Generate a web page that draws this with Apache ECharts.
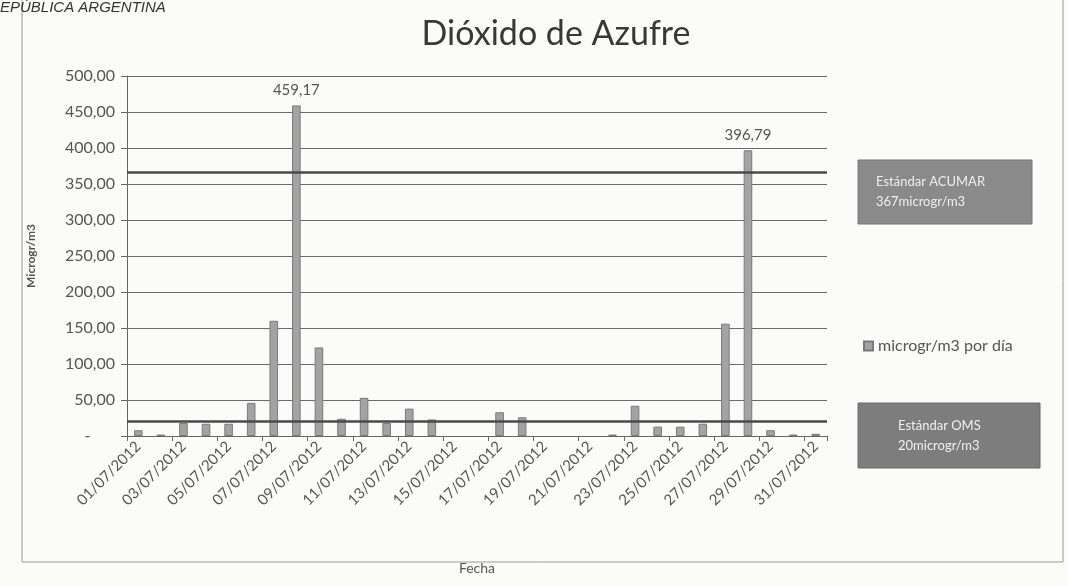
<!DOCTYPE html>
<html>
<head>
<meta charset="utf-8">
<script src="https://cdn.jsdelivr.net/npm/echarts@6/dist/echarts.min.js"></script>
<style>
html,body{margin:0;padding:0;background:#fbfbfa;}
#c{width:1067px;height:586px;}
</style>
</head>
<body>
<div id="c"></div>
<script>
const categories = ["01/07/2012","02/07/2012","03/07/2012","04/07/2012","05/07/2012","06/07/2012","07/07/2012","08/07/2012","09/07/2012","10/07/2012","11/07/2012","12/07/2012","13/07/2012","14/07/2012","15/07/2012","16/07/2012","17/07/2012","18/07/2012","19/07/2012","20/07/2012","21/07/2012","22/07/2012","23/07/2012","24/07/2012","25/07/2012","26/07/2012","27/07/2012","28/07/2012","29/07/2012","30/07/2012","31/07/2012"];
const dailyValues = [8,2,18,17,17,46,160,459.17,123,24,53,18,38,23,null,null,33,26,null,null,null,2,42,13,13,17,156,396.79,8,2,3];
const seriesName = "microgr/m3 por día";
const acumarStandard = 367;
const omsStandard = 20;
const yTicks = {min:0, max:500, interval:50};

const fmt = v => v.toFixed(2).replace('.', ',');
const chart = echarts.init(document.getElementById('c'));
const font = 'Lato, "Open Sans", sans-serif';
chart.setOption({
  backgroundColor: '#fbfbfa',
  animation: false,
  textStyle: {fontFamily: font},
  title: {
    text: 'Dióxido de Azufre',
    left: 551, top: 12, textAlign: 'center',
    textStyle: {fontFamily: font, fontSize: 34, fontWeight: 'normal', color: '#383838'}
  },
  legend: {
    data: [{name: seriesName, icon: 'rect'}],
    left: 858, top: 333, itemWidth: 9, itemHeight: 9, itemGap: 6,
    textStyle: {fontFamily: font, fontSize: 16, color: '#555'}
  },
  grid: {left: 127, right: 240, top: 76, bottom: 150, containLabel: false},
  xAxis: {
    type: 'category', data: categories,
    name: 'Fecha', nameLocation: 'middle', nameGap: 125,
    nameTextStyle: {fontFamily: font, fontSize: 14, color: '#555'},
    axisLine: {show: true, lineStyle: {color: '#666', width: 1}},
    axisTick: {show: true, interval: 1, alignWithLabel: false, length: 5, lineStyle: {color: '#666'}},
    axisLabel: {interval: 1, rotate: 45, fontFamily: font, fontSize: 15, color: '#555', margin: 8}
  },
  yAxis: {
    type: 'value', min: yTicks.min, max: yTicks.max, interval: yTicks.interval,
    name: 'Microgr/m3', nameLocation: 'middle', nameGap: 90,
    nameTextStyle: {fontFamily: font, fontSize: 12, fontWeight: 'bold', color: '#555'},
    axisLine: {show: true, lineStyle: {color: '#666', width: 1}},
    axisTick: {show: true, length: 6, lineStyle: {color: '#666'}},
    splitLine: {show: true, lineStyle: {color: '#6a6a6a', width: 1}},
    axisLabel: {fontFamily: font, fontSize: 16, color: '#555', margin: 12,
      formatter: v => v === 0 ? '-      ' : fmt(v)}
  },
  series: [{
    name: seriesName, type: 'bar', data: dailyValues, barWidth: '38%',
    itemStyle: {color: '#a3a3a3', borderColor: '#7a7a7a', borderWidth: 1},
    label: {show: true, position: 'top', distance: 8, fontFamily: font, fontSize: 15, color: '#555',
      formatter: p => p.value > 300 ? fmt(p.value) : ''},
    markLine: {
      silent: true, symbol: 'none', label: {show: false},
      lineStyle: {color: '#4a4a4a', width: 2.5, type: 'solid'},
      data: [{yAxis: acumarStandard}, {yAxis: omsStandard}]
    }
  }],
  graphic: [
    {type: 'rect', shape: {x: 22, y: -5, width: 1041, height: 567}, style: {fill: 'none', stroke: '#9a9a9a', lineWidth: 1}, z: -1},
    {type: 'text', left: 0, top: 0, style: {text: 'EPÚBLICA ARGENTINA', font: 'italic 15px "Liberation Sans", Arial, sans-serif', fill: '#333'}},
    {type: 'rect', shape: {x: 858, y: 160, width: 174, height: 64}, style: {fill: '#8a8a8a', stroke: '#777', lineWidth: 1}},
    {type: 'text', left: 876, top: 172, style: {text: 'Estándar ACUMAR\n367microgr/m3', font: '13px ' + font, fill: '#eeeeee', lineHeight: 20}},
    {type: 'rect', shape: {x: 858, y: 403, width: 182, height: 65}, style: {fill: '#7d7d7d', stroke: '#6a6a6a', lineWidth: 1}},
    {type: 'text', left: 898, top: 416, style: {text: 'Estándar OMS\n20microgr/m3', font: '13px ' + font, fill: '#f0f0f0', lineHeight: 20}}
  ]
});
</script>
</body>
</html>
